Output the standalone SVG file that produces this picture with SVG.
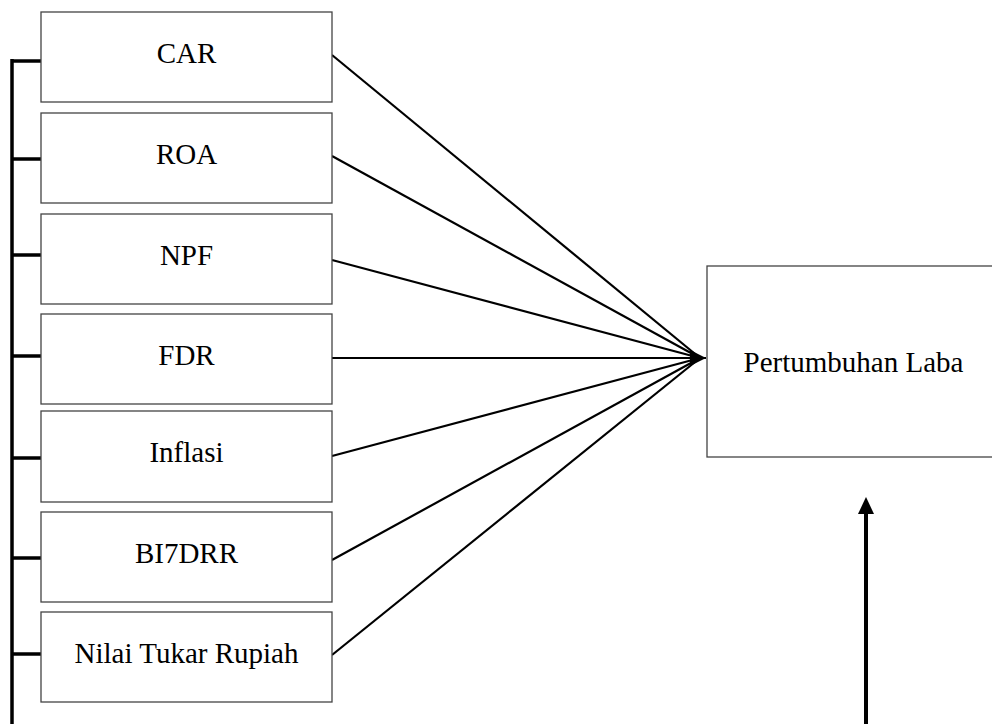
<svg xmlns="http://www.w3.org/2000/svg" width="992" height="724" viewBox="0 0 992 724">
<style>
.box{fill:#fff;stroke:#444;stroke-width:1.3}
.lbl{font-family:"Liberation Serif","Times New Roman",serif;font-size:29px;fill:#000;text-anchor:middle}
.con{stroke:#000;stroke-width:2.2;fill:none}
.brk{stroke:#000;stroke-width:3.5;fill:none}
</style>
<defs>
<marker id="ah" markerUnits="userSpaceOnUse" markerWidth="18" markerHeight="18" refX="16" refY="8" orient="auto">
<path d="M0,0 L16,8 L0,16 z" fill="#000"/>
</marker>
</defs>
<g id="connectors">
<line class="brk" x1="12" y1="59" x2="12" y2="724"/>
<line class="brk" x1="12" y1="61" x2="42" y2="61"/>
<line class="brk" x1="12" y1="159" x2="42" y2="159"/>
<line class="brk" x1="12" y1="255" x2="42" y2="255"/>
<line class="brk" x1="12" y1="356" x2="42" y2="356"/>
<line class="brk" x1="12" y1="458" x2="42" y2="458"/>
<line class="brk" x1="12" y1="558" x2="42" y2="558"/>
<line class="brk" x1="12" y1="654" x2="42" y2="654"/>
<line class="con" x1="332" y1="55" x2="700" y2="358"/>
<line class="con" x1="332" y1="156" x2="700" y2="358"/>
<line class="con" x1="332" y1="260" x2="700" y2="358"/>
<line class="con" x1="332" y1="358" x2="706" y2="358" stroke-width="3" marker-end="url(#ah)"/>
<line class="con" x1="332" y1="456" x2="700" y2="358"/>
<line class="con" x1="332" y1="560" x2="700" y2="358"/>
<line class="con" x1="332" y1="655" x2="700" y2="358"/>
<line x1="866" y1="724" x2="866" y2="512" stroke="#000" stroke-width="4"/>
<path d="M866,497 L874,514 L858,514 z" fill="#000"/>
</g>
<g id="car"><rect class="box" x="41" y="12" width="291" height="90"/><text class="lbl" x="186.5" y="63">CAR</text></g>
<g id="roa"><rect class="box" x="41" y="113" width="291" height="90"/><text class="lbl" x="186.5" y="164">ROA</text></g>
<g id="npf"><rect class="box" x="41" y="214" width="291" height="90"/><text class="lbl" x="186.5" y="265">NPF</text></g>
<g id="fdr"><rect class="box" x="41" y="314" width="291" height="90"/><text class="lbl" x="186.5" y="365">FDR</text></g>
<g id="inflasi"><rect class="box" x="41" y="411" width="291" height="91"/><text class="lbl" x="186.5" y="462">Inflasi</text></g>
<g id="bi7drr"><rect class="box" x="41" y="512" width="291" height="90"/><text class="lbl" x="186.5" y="563">BI7DRR</text></g>
<g id="nilai"><rect class="box" x="41" y="612" width="291" height="90"/><text class="lbl" x="186.5" y="663">Nilai Tukar Rupiah</text></g>
<g id="laba"><rect class="box" x="707" y="266" width="300" height="191"/><text class="lbl" x="853.5" y="372">Pertumbuhan Laba</text></g>
</svg>
